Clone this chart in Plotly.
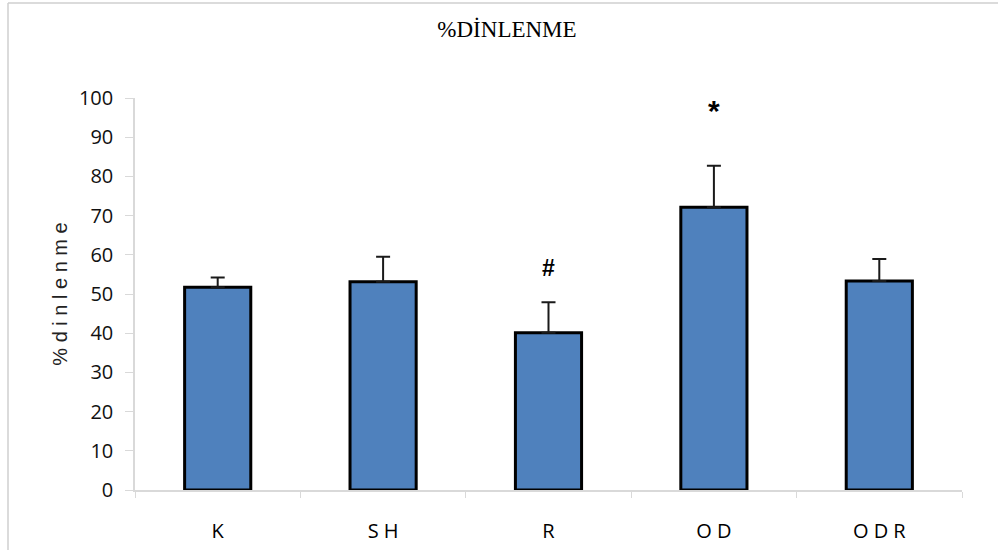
import plotly.graph_objects as go

categories = ["K", "SH", "R", "OD", "ODR"]
tick_text = ["K", "S H", "R", "O D", "O D R"]
values = [51.7, 53.1, 40.1, 72.1, 53.3]
errors_plus = [2.5, 6.4, 7.8, 10.6, 5.6]
markers = ["", "", "#", "*", ""]
marker_y = [None, None, 56.6, 96.8, None]

fig = go.Figure()
fig.add_trace(go.Bar(
    x=categories, y=values,
    width=0.4,
    marker=dict(color="#4F81BD", line=dict(color="#000000", width=3)),
    error_y=dict(type="data", array=errors_plus, arrayminus=[0]*5, symmetric=False,
                 color="#1a1a1a", thickness=2, width=7),
    showlegend=False,
))

for c, m, my in zip(categories, markers, marker_y):
    if m:
        fig.add_annotation(x=c, y=my, text=f"<b>{m}</b>", showarrow=False,
                           font=dict(family="Liberation Sans", size=30 if m == "*" else 23, color="#000"),
                           yanchor="middle")

# partial outer frame (left & top edges)
L, R, T, B = 135, 36, 98, 60
W, H = 998, 550
pw, ph = W - L - R, H - T - B
x_frame = (8 - L) / pw
y_frame = (H - B - 3) / ph
fig.add_shape(type="line", xref="paper", yref="paper", x0=x_frame, x1=x_frame, y0=(H - B - 560) / ph, y1=y_frame,
              line=dict(color="#cfcfcf", width=1.5))
fig.add_shape(type="line", xref="paper", yref="paper", x0=x_frame, x1=(1000 - L) / pw, y0=y_frame, y1=y_frame,
              line=dict(color="#cfcfcf", width=1.5))

fig.update_layout(
    width=W, height=H,
    margin=dict(l=L, r=R, t=T, b=B, autoexpand=False),
    paper_bgcolor="white", plot_bgcolor="white",
    title=dict(text="%DİNLENME", x=0.508, xanchor="center", y=0.947, yanchor="middle",
               font=dict(family="Liberation Serif", size=23, color="#000")),
    bargap=0.6,
)
fig.update_xaxes(
    tickmode="array", tickvals=categories, ticktext=tick_text,
    tickfont=dict(family="Open Sans", size=20, color="#000"),
    showline=True, linecolor="#d9d9d9", linewidth=1.5,
    ticks="outside", tickson="boundaries", ticklen=6, tickcolor="#d9d9d9",
    ticklabelstandoff=22, showgrid=False, zeroline=False, automargin=False,
)
fig.update_yaxes(
    range=[0, 100], dtick=10,
    tickfont=dict(family="Open Sans", size=20, color="#111"),
    showline=True, linecolor="#d9d9d9", linewidth=1.5,
    ticks="outside", ticklen=8, tickcolor="#d9d9d9",
    ticklabelstandoff=8, automargin=False,
    showgrid=False, zeroline=False,
    title=dict(text="% d i n l e n m e", font=dict(family="Liberation Sans Narrow, Liberation Sans", size=20, color="#222"),
               standoff=6),
)

fig.write_html("out.html", config={"displayModeBar": False},
               post_script="document.body.style.margin='0';")
